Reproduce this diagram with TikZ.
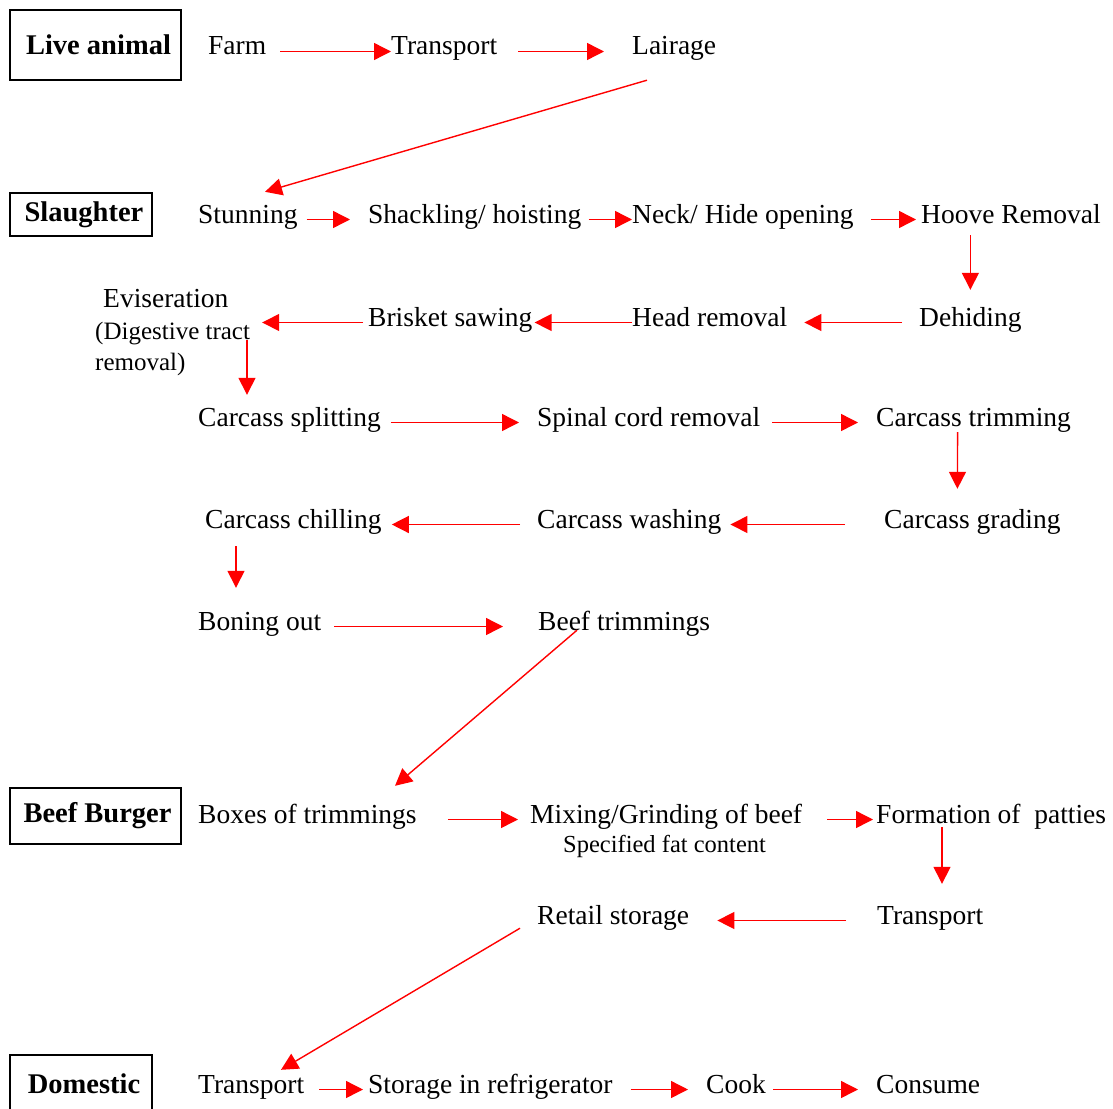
\documentclass[tikz,border=0pt]{standalone}
\usepackage{fontspec}
\setmainfont{Liberation Serif}
\usetikzlibrary{arrows.meta,calc}
\begin{document}
\begin{tikzpicture}[x=1pt, y=-1pt,
	txt/.style = {anchor=base west, inner sep=0pt, font=\fontsize{27.5}{32}\selectfont, text height=19pt, text depth=12pt},
	stage/.style = {draw, line width=1.5pt, inner sep=0pt, font=\fontsize{28.5}{32}\selectfont\bfseries},
	arr/.style = {red, line width=1.4pt, -{Triangle[length=17pt, width=17pt]}}]
		\useasboundingbox (0,0) rectangle (1113,1108);
		% Vaiheet
		\node[stage, minimum width=171pt, minimum height=70pt] (live) at (95.5,45) {\hspace{6pt}Live animal};
		\node[stage, minimum width=142pt, minimum height=43pt] (slaughter) at (81,214.5) {\hspace{6pt}Slaughter};
		\node[stage, minimum width=171pt, minimum height=56pt] (burger) at (95.5,816) {\hspace{4pt}Beef Burger};
		\node[stage, minimum width=142pt, minimum height=57pt] (domestic) at (81,1083.5) {\hspace{6pt}Domestic};
		% Tekstit
		\node[txt] (farm) at (208,55) {Farm};
		\node[txt] (transp) at (391,55) {Transport};
		\node[txt] (lair) at (632,55) {Lairage};
		\node[txt] (stun) at (198,223) {Stunning};
		\node[txt] (shack) at (368,223) {Shackling/ hoisting};
		\node[txt] (neck) at (632,223) {Neck/ Hide opening};
		\node[txt] (hoove) at (921,223) {Hoove Removal};
		\node[txt] (dehide) at (919,326) {Dehiding};
		\node[txt] (head) at (632,326) {Head removal};
		\node[txt] (brisket) at (368,326) {Brisket sawing};
		\node[anchor=north west, inner sep=0pt, align=left, font=\fontsize{25}{31}\selectfont] (evis) at (95,289)
			{\hspace{8pt}{\fontsize{27.5}{32}\selectfont Eviseration}\\[1pt](Digestive tract\\removal)};
		\node[txt] (split) at (198,426) {Carcass splitting};
		\node[txt] (spinal) at (537,426) {Spinal cord removal};
		\node[txt] (trim) at (876,426) {Carcass trimming};
		\node[txt] (grade) at (884,528) {Carcass grading};
		\node[txt] (wash) at (537,528) {Carcass washing};
		\node[txt] (chill) at (205,528) {Carcass chilling};
		\node[txt] (bone) at (198,630) {Boning out};
		\node[txt] (beeftrim) at (538,630) {Beef trimmings};
		\node[txt] (boxes) at (198,823) {Boxes of trimmings};
		\node[txt] (mix) at (530,823) {Mixing/Grinding of beef};
		\node[txt, font=\fontsize{24.5}{28}\selectfont] (fat) at (563,852) {Specified fat content};
		\node[txt] (form) at (876,823) {Formation of\ \ patties};
		\node[txt] (transpb) at (877,924) {Transport};
		\node[txt] (retail) at (537,924) {Retail storage};
		\node[txt] (transpc) at (198,1093) {Transport};
		\node[txt] (store) at (368,1093) {Storage in refrigerator};
		\node[txt] (cook) at (706,1093) {Cook};
		\node[txt] (consume) at (876,1093) {Consume};
		% Nuolet
		\draw[arr, shorten <=14pt] (farm) -- (transp);						% FT
		\draw[arr, shorten <=21pt, shorten >=28pt] (transp) -- (lair);		% TL
		\draw[arr] ([xshift=15pt,yshift=-13pt]lair.south west) -- ([xshift=67pt,yshift=12pt]stun.north west);	% LS
		\draw[arr, shorten <=9pt, shorten >=18pt] (stun) -- (shack);		% SS
		\draw[arr, shorten <=7pt] (shack) -- (neck);						% SN
		\draw[arr, shorten <=17pt, shorten >=5pt] (neck) -- (hoove);		% NH
		\draw[arr, shorten >=17pt] (hoove.south -| dehide.center) -- (dehide.north);	% HD
		\draw[arr, shorten <=17pt, shorten >=17pt] (dehide) -- (head);		% DH
		\draw[arr, shorten >=2pt] (head) -- (brisket);						% HB
		\draw[arr, shorten <=5pt] (brisket.west) -- ($(evis.east |- brisket.west)+(12,0)$);	% BE
		\draw[arr] ($(evis.north west)+(152,51)$) -- ([xshift=49pt,yshift=12pt]split.north west);	% ES
		\draw[arr, shorten <=10pt, shorten >=18pt] (split) -- (spinal);		% SS
		\draw[arr, shorten <=12pt, shorten >=18pt] (spinal) -- (trim);		% ST
		\draw[arr] ([xshift=-16pt,yshift=6pt]trim.south) -- ([xshift=-15pt,yshift=20pt]grade.north);	% TG
		\draw[arr, shorten <=39pt, shorten >=9pt] (grade) -- (wash);		% GW
		\draw[arr, shorten <=17pt, shorten >=10pt] (wash) -- (chill);		% WC
		\draw[arr] ([xshift=31pt,yshift=-6pt]chill.south west) -- ([xshift=38pt,yshift=23pt]bone.north west);	% CB
		\draw[arr, shorten <=13pt, shorten >=35pt] (bone) -- (beeftrim);	% BB
		\draw[arr] ([xshift=39pt,yshift=12pt]beeftrim.south west) -- ([xshift=197pt,yshift=18pt]boxes.north west);	% BB
		\draw[arr, shorten <=31pt, shorten >=12pt] (boxes) -- (mix);		% BM
		\draw[arr, shorten <=25pt, shorten >=3pt] (mix) -- (form);			% MF
		\draw[arr] ([xshift=66pt,yshift=8pt]form.south west) -- ([xshift=65pt,yshift=21pt]transpb.north west);	% FT
		\draw[arr, shorten <=31pt, shorten >=28pt] (transpb) -- (retail);	% TR
		\draw[arr] ([xshift=-17pt,yshift=8pt]retail.south west) -- ([xshift=83pt,yshift=4pt]transpc.north west);	% RT
		\draw[arr, shorten <=15pt, shorten >=5pt] (transpc) -- (store);		% TS
		\draw[arr, shorten <=18pt, shorten >=18pt] (store) -- (cook);		% SC
		\draw[arr, shorten <=7pt, shorten >=18pt] (cook) -- (consume);		% CC
\end{tikzpicture}
\end{document}
